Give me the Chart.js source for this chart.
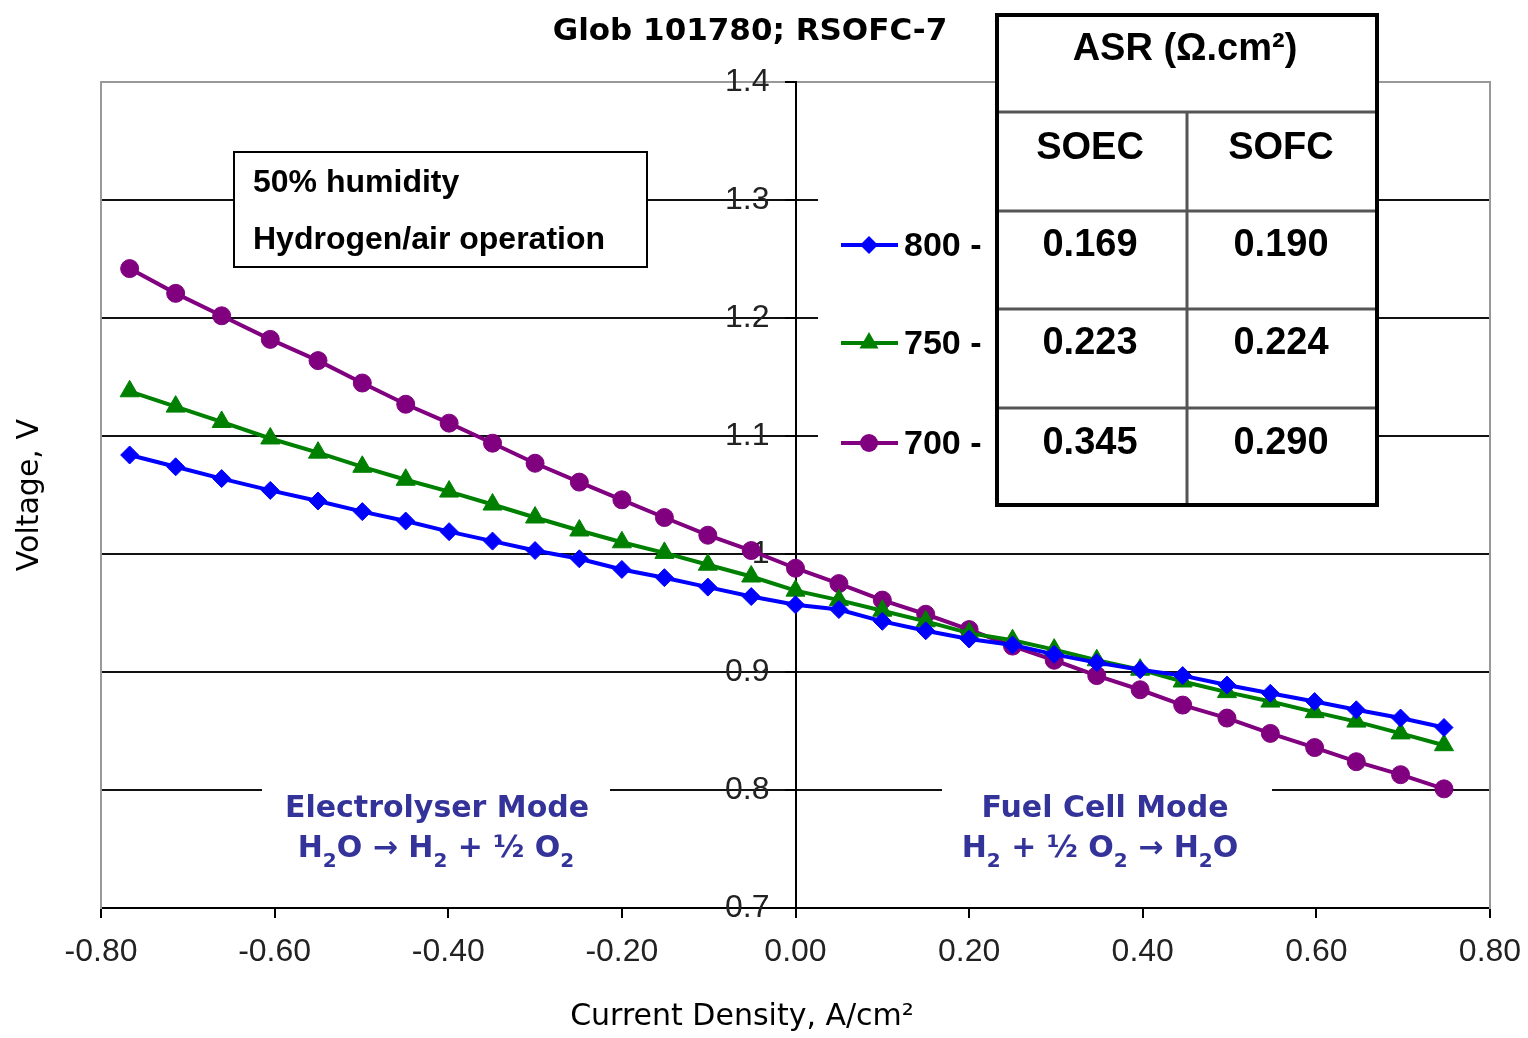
<!DOCTYPE html>
<html>
<head>
<meta charset="utf-8">
<title>Glob 101780; RSOFC-7</title>
<script src="https://cdn.jsdelivr.net/npm/chart.js@4.4.1/dist/chart.umd.min.js"></script>
<style>
  html, body { margin: 0; padding: 0; background: #fff; }
  #wrap { position: relative; width: 1528px; height: 1038px; }
</style>
</head>
<body>
<div id="wrap"><canvas id="ivChart"></canvas></div>
<script>
// current density (A/cm2) shared by the three curves
const currentDensity = [-0.767, -0.714, -0.661, -0.605, -0.550, -0.499, -0.449, -0.399, -0.349, -0.300,
    -0.249, -0.200, -0.151, -0.101, -0.051, 0.000, 0.050, 0.100, 0.150, 0.200,
    0.250, 0.298, 0.347, 0.397, 0.446, 0.497, 0.547, 0.598, 0.646, 0.697, 0.747];

// cell voltage (V) per temperature
const volts800 = [1.084, 1.074, 1.064, 1.054, 1.045, 1.036, 1.028, 1.019, 1.011, 1.003,
    0.996, 0.987, 0.980, 0.972, 0.964, 0.957, 0.953, 0.943, 0.935, 0.928,
    0.923, 0.915, 0.908, 0.902, 0.897, 0.889, 0.882, 0.875, 0.868, 0.861, 0.853];
const volts750 = [1.138, 1.125, 1.112, 1.098, 1.086, 1.074, 1.063, 1.053, 1.042, 1.031,
    1.020, 1.010, 1.001, 0.991, 0.981, 0.969, 0.961, 0.952, 0.943, 0.933,
    0.927, 0.919, 0.910, 0.902, 0.892, 0.883, 0.875, 0.866, 0.858, 0.848, 0.838];
const volts700 = [1.242, 1.221, 1.202, 1.182, 1.164, 1.145, 1.127, 1.111, 1.094, 1.077,
    1.061, 1.046, 1.031, 1.016, 1.003, 0.988, 0.975, 0.961, 0.949, 0.936,
    0.922, 0.910, 0.897, 0.885, 0.872, 0.861, 0.848, 0.836, 0.824, 0.813, 0.801];

const seriesLabels = ['800', '750', '700'];
const asrSoec = ['0.169', '0.223', '0.345'];
const asrSofc = ['0.190', '0.224', '0.290'];

const TICK_FONT = { family: "'Liberation Sans Narrow', 'Liberation Sans', Arial, sans-serif", size: 32 };
const MODE_COLOR = '#333399';

const toPoints = (ys) => ys.map((y, i) => ({ x: currentDensity[i], y: y }));

const datasets = [
    { label: seriesLabels[0], data: toPoints(volts800), borderColor: '#0000ff', pointStyle: 'rectRot', pointRadius: 9 },
    { label: seriesLabels[1], data: toPoints(volts750), borderColor: '#008000', pointStyle: 'triangle', pointRadius: 11 },
    { label: seriesLabels[2], data: toPoints(volts700), borderColor: '#800080', pointStyle: 'circle', pointRadius: 9 },
].map((d) => ({
    ...d,
    backgroundColor: d.borderColor,
    pointBorderColor: d.borderColor,
    pointBackgroundColor: d.borderColor,
    pointBorderWidth: 1,
    borderWidth: 4,
    tension: 0,
    fill: false,
}));

function drawMarker(ctx, style, x, y, r) {
    ctx.beginPath();
    if (style === 'circle') {
        ctx.arc(x, y, r, 0, Math.PI * 2);
    } else if (style === 'rectRot') {
        ctx.moveTo(x, y - r);
        ctx.lineTo(x + r, y);
        ctx.lineTo(x, y + r);
        ctx.lineTo(x - r, y);
    } else {
        let rad = 0;
        ctx.moveTo(x + Math.sin(rad) * r, y - Math.cos(rad) * r);
        rad += Math.PI * 2 / 3;
        ctx.lineTo(x + Math.sin(rad) * r, y - Math.cos(rad) * r);
        rad += Math.PI * 2 / 3;
        ctx.lineTo(x + Math.sin(rad) * r, y - Math.cos(rad) * r);
    }
    ctx.closePath();
    ctx.fill();
}

// text with subscript runs, centred on cx
function drawRich(ctx, parts, cx, baseline, size) {
    const main = `bold ${size}px "DejaVu Sans"`;
    const sub = `bold ${Math.round(size * 0.68)}px "DejaVu Sans"`;
    let w = 0;
    parts.forEach(([t, s]) => { ctx.font = s ? sub : main; w += ctx.measureText(t).width; });
    let x = cx - w / 2;
    ctx.textAlign = 'left';
    ctx.textBaseline = 'alphabetic';
    parts.forEach(([t, s]) => {
        ctx.font = s ? sub : main;
        ctx.fillText(t, x, baseline + (s ? size * 0.33 : 0));
        x += ctx.measureText(t).width;
    });
}

const annotations = {
    id: 'annotations',
    beforeDatasetsDraw(chart) {
        const ctx = chart.ctx;
        ctx.save();

        // humidity note
        ctx.fillStyle = '#fff';
        ctx.fillRect(233, 151, 415, 117);
        ctx.strokeStyle = '#000';
        ctx.lineWidth = 2;
        ctx.strokeRect(234, 152, 413, 115);
        ctx.fillStyle = '#000';
        ctx.font = 'bold 32px "Liberation Sans"';
        ctx.textAlign = 'left';
        ctx.textBaseline = 'alphabetic';
        ctx.fillText('50% humidity', 253, 192);
        ctx.fillText('Hydrogen/air operation', 253, 249);

        // mode labels
        ctx.fillStyle = '#fff';
        ctx.fillRect(262, 776, 348, 100);
        ctx.fillRect(942, 776, 330, 100);
        ctx.fillStyle = MODE_COLOR;
        drawRich(ctx, [['Electrolyser Mode', false]], 437, 817, 30);
        drawRich(ctx, [['H', false], ['2', true], ['O \u2192 H', false], ['2', true], [' + \u00bd O', false], ['2', true]], 436, 857, 30);
        drawRich(ctx, [['Fuel Cell Mode', false]], 1105, 817, 30);
        drawRich(ctx, [['H', false], ['2', true], [' + \u00bd O', false], ['2', true], [' \u2192 H', false], ['2', true], ['O', false]], 1100, 857, 30);

        // legend area + ASR table
        ctx.fillStyle = '#fff';
        ctx.fillRect(818, 150, 177, 357);
        ctx.fillRect(995, 13, 384, 494);

        const rowY = [245, 343, 443];
        chart.data.datasets.forEach((ds, i) => {
            ctx.strokeStyle = ds.borderColor;
            ctx.fillStyle = ds.borderColor;
            ctx.lineWidth = 4;
            ctx.beginPath();
            ctx.moveTo(841, rowY[i]);
            ctx.lineTo(898, rowY[i]);
            ctx.stroke();
            drawMarker(ctx, ds.pointStyle, 869, rowY[i], ds.pointRadius);
            ctx.fillStyle = '#000';
            ctx.font = 'bold 34px "Liberation Sans"';
            ctx.textAlign = 'left';
            ctx.textBaseline = 'middle';
            ctx.fillText(ds.label + ' -', 904, rowY[i] + 2);
        });

        ctx.strokeStyle = '#555';
        ctx.lineWidth = 3;
        ctx.beginPath();
        [112, 211, 309, 408].forEach((y) => { ctx.moveTo(995, y); ctx.lineTo(1379, y); });
        ctx.moveTo(1187, 112);
        ctx.lineTo(1187, 507);
        ctx.stroke();
        ctx.strokeStyle = '#000';
        ctx.lineWidth = 4;
        ctx.strokeRect(997, 15, 380, 490);

        ctx.fillStyle = '#000';
        ctx.font = 'bold 38px "Liberation Sans"';
        ctx.textAlign = 'center';
        ctx.textBaseline = 'middle';
        ctx.fillText('ASR (\u03a9.cm\u00b2)', 1185, 50);
        ctx.fillText('SOEC', 1090, 149);
        ctx.fillText('SOFC', 1281, 149);
        rowY.forEach((y, i) => {
            ctx.fillText(asrSoec[i], 1090, y + 1);
            ctx.fillText(asrSofc[i], 1281, y + 1);
        });
        ctx.restore();
    },
    afterDraw(chart) {
        const ctx = chart.ctx;
        ctx.save();
        ctx.fillStyle = '#000';
        ctx.font = '30px "DejaVu Sans"';
        ctx.textAlign = 'center';
        ctx.textBaseline = 'alphabetic';
        ctx.fillText('Current Density, A/cm\u00b2', 742, 1025);
        ctx.restore();
    },
};

const frameAxis = (position, title) => ({
    type: 'linear',
    position: position,
    min: 0.7,
    max: 1.4,
    ticks: { display: false },
    grid: { display: false, drawTicks: false },
    border: { display: true, color: '#999', width: 2 },
    title: title ? {
        display: true,
        text: title,
        color: '#000',
        font: { family: '"DejaVu Sans"', size: 30 },
        padding: { top: 2, bottom: 53 },
    } : { display: false },
});

const ctx = document.getElementById('ivChart').getContext('2d');
new Chart(ctx, {
    type: 'line',
    data: { datasets: datasets },
    options: {
        responsive: true,
        maintainAspectRatio: false,
        animation: false,
        // x axis height = tick 10 + label line 56 + 2 * padding 6
        layout: { padding: { left: 10, right: 38, top: 0, bottom: 52 } },
        plugins: {
            legend: { display: false },
            tooltip: { enabled: false },
            title: {
                display: true,
                text: 'Glob 101780; RSOFC-7',
                color: '#000',
                font: { family: '"DejaVu Sans"', size: 31, weight: 'bold' },
                padding: { top: 13, bottom: 32 },
            },
        },
        scales: {
            x: {
                type: 'linear',
                position: 'bottom',
                min: -0.8,
                max: 0.8,
                ticks: {
                    stepSize: 0.2,
                    color: '#222',
                    font: { ...TICK_FONT, lineHeight: 1.75 },
                    padding: 6,
                    maxRotation: 0,
                    callback: (v) => (Math.abs(v) < 1e-9 ? 0 : v).toFixed(2),
                },
                grid: { drawOnChartArea: false, tickLength: 10, color: '#000', lineWidth: 2 },
                border: { color: '#000', width: 2 },
            },
            y: {
                type: 'linear',
                position: { x: 0 },
                min: 0.7,
                max: 1.4,
                ticks: { display: false, stepSize: 0.1 },
                grid: {
                    tickLength: 10,
                    lineWidth: 2,
                    tickColor: '#000',
                    color: (c) => (c.tick && c.tick.value > 1.39 ? '#999' : '#111'),
                },
                border: { color: '#000', width: 2 },
            },
            yTicks: {
                type: 'linear',
                position: { x: -0.03 },
                min: 0.7,
                max: 1.4,
                ticks: {
                    stepSize: 0.1,
                    color: '#222',
                    font: TICK_FONT,
                    callback: (v) => String(Math.round(v * 10) / 10),
                },
                grid: { display: false, drawTicks: false },
                border: { display: false },
            },
            yl: frameAxis('left', 'Voltage, V'),
            yr: frameAxis('right', null),
        },
    },
    plugins: [annotations],
});
</script>
</body>
</html>
